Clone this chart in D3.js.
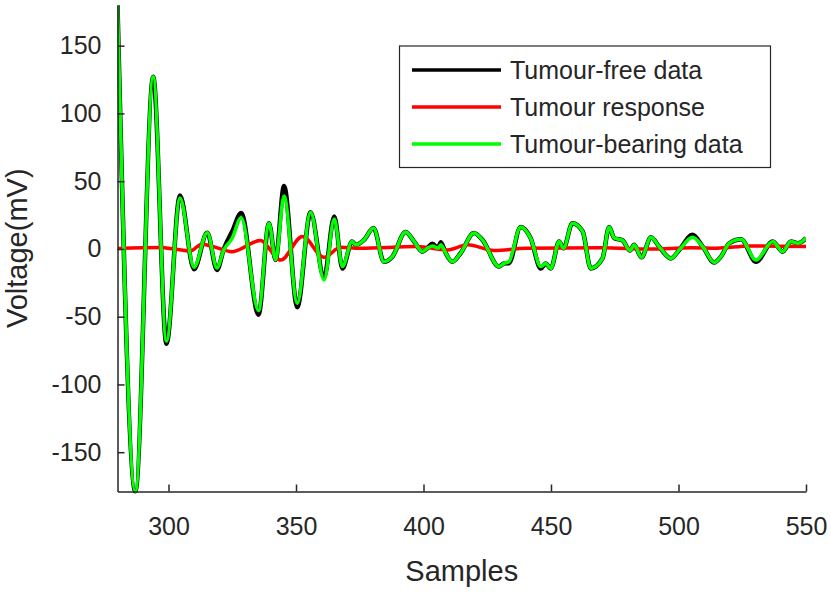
<!DOCTYPE html>
<html>
<head>
<meta charset="utf-8">
<script src="https://cdn.jsdelivr.net/npm/d3@7"></script>
<style>
  body { margin: 0; background: #fff; }
  text { font-family: "Liberation Sans", Arial, Helvetica, sans-serif; fill: #262626; }
</style>
</head>
<body>
<svg width="831" height="596"></svg>
<script>
const freeSamples = [280, 287, 294, 299.2, 304.5, 310, 315.2, 319, 321.7, 325, 328.5, 335.3, 339.4, 342, 345.3, 350.5, 355.7, 361, 365, 368.2, 372, 373.4, 376.7, 380.4, 384.5, 387.8, 393, 396.3, 399.6, 401.5, 403.5, 405.7, 406.8, 408.7, 411.3, 414.6, 419.8, 423.1, 429.6, 431.6, 433.5, 438.1, 442, 446, 447.9, 449.9, 453.2, 454.9, 458.4, 462.4, 465.6, 470.2, 472.8, 474.8, 478.1, 481, 482.6, 485.5, 489.2, 492.4, 497, 500.3, 505.5, 509.5, 514, 516.6, 519.9, 524.5, 530.4, 537, 540.8, 544.1, 546.8, 550];

// tumour-free data (black)
const freeValues = [180, -179, 127, -70, 39.5, -15, 12, -15.5, 0, 13, 26.5, -48.5, 19, -8, 46.5, -43, 27, -21, 24, -14.5, 5.5, 3, 6.7, 15.5, -9.5, -5.7, 12.4, 5.5, -2, 0.5, 3.8, 0.5, 5, -3, -9.5, -3, 11.7, 6.7, -13, -10.7, -10.5, 16.2, 8, -14.5, -10.7, -14.4, 5.5, 0.5, 19, 13, -14.4, -7, 16.2, 8, 6.2, -1.2, 3, -6.2, 8.7, 1.7, -7, -0.7, 10.4, 1.7, -10, -5.7, 4.2, 7.2, -9.5, 5.5, -2, 5.5, 4.2, 8];

// tumour-bearing data (green)
const bearingValues = [180, -179, 127, -68, 37.5, -13.5, 12, -14, -0.7, 8, 23, -45.5, 19, -8, 39, -40, 27, -23, 22, -13, 5.5, 3, 6.7, 15.5, -9.5, -5.7, 12.4, 5.5, -2, 0.5, 2.2, 0.5, 3, -3, -9.5, -3, 11.7, 6.7, -13, -10.7, -9.5, 16.2, 8, -13, -10.7, -14.4, 5.5, 0.5, 19, 13, -14.4, -7, 16.2, 8, 6.2, -1.2, 3, -6.2, 8.7, 1.7, -7, -0.7, 8.7, 1.7, -10, -5.7, 4.2, 7.2, -8.2, 5.5, -2, 5.5, 4.2, 8];

// tumour response (red)
const respSamples = [280, 297, 302, 308.6, 313, 317, 325, 336, 344, 352.5, 361, 367.5, 375, 397.6, 409.4, 417.3, 427.7, 440, 470, 489, 505, 515, 528, 540, 550];
const respValues = [0.3, 1, 0, -1.5, 3.5, 2, -2, 6.2, -8.2, 9.2, -6.2, 1.3, 0.5, 1.7, -0.7, 3, -1.2, 0.5, 0.8, 0, 0.8, 0.5, 2.2, 2, 1.7];

const xTicks = [300, 350, 400, 450, 500, 550];
const yTicks = [-150, -100, -50, 0, 50, 100, 150];
const legendNames = ["Tumour-free data", "Tumour response", "Tumour-bearing data"];
const legendColors = ["#000000", "#ff0000", "#00ff00"];

const svg = d3.select("svg");
const mLeft = 117.5, mRight = 806, mTop = 5, mBottom = 491.5;

const x = d3.scaleLinear().domain([280, 550]).range([mLeft, mRight]);
const y = d3.scaleLinear().domain([-179, 180]).range([mBottom, mTop]);

const line = d3.line()
  .x(d => x(d[0]))
  .y(d => y(d[1]))
  .curve(d3.curveMonotoneX);

const freeData = freeSamples.map((s, i) => [s, freeValues[i]]);
const bearingData = freeSamples.map((s, i) => [s, bearingValues[i]]);
const respData = respSamples.map((s, i) => [s, respValues[i]]);

const plot = svg.append("g");
plot.append("clipPath").attr("id", "clip")
  .append("rect").attr("x", mLeft).attr("y", mTop - 2).attr("width", mRight - mLeft).attr("height", mBottom - mTop + 4);

const lines = plot.append("g").attr("clip-path", "url(#clip)");
lines.append("path").datum(freeData).attr("d", line)
  .attr("fill", "none").attr("stroke", "#000").attr("stroke-width", 4.5).attr("stroke-linejoin", "round");
lines.append("path").datum(respData).attr("d", line)
  .attr("fill", "none").attr("stroke", "#ff0000").attr("stroke-width", 3.5).attr("stroke-linejoin", "round");
lines.append("path").datum(bearingData).attr("d", line)
  .attr("fill", "none").attr("stroke", "#00ff00").attr("stroke-width", 3.5).attr("stroke-linejoin", "round");

// axes (plain hyphen for negatives, like the original)
const fmt = d => String(d);
const xAxis = svg.append("g").attr("transform", `translate(0,${mBottom})`)
  .call(d3.axisBottom(x).tickValues(xTicks).tickFormat(fmt).tickSizeInner(-7).tickSizeOuter(0).tickPadding(26));
const yAxis = svg.append("g").attr("transform", `translate(${mLeft},0)`)
  .call(d3.axisLeft(y).tickValues(yTicks).tickFormat(fmt).tickSizeInner(-7).tickSizeOuter(0).tickPadding(16));

[xAxis, yAxis].forEach(a => {
  a.select(".domain").attr("stroke", "#262626").attr("stroke-width", 1.5);
  a.selectAll(".tick line").attr("stroke", "#262626").attr("stroke-width", 1.5);
  a.selectAll(".tick text").attr("font-size", 25).attr("fill", "#262626")
    .attr("font-family", "Liberation Sans, Arial, sans-serif");
});

svg.append("text").attr("x", (mLeft + mRight) / 2).attr("y", 581)
  .attr("text-anchor", "middle").attr("font-size", 29).text("Samples");
svg.append("text").attr("transform", `translate(27,${(mTop + mBottom) / 2}) rotate(-90)`)
  .attr("text-anchor", "middle").attr("font-size", 29).text("Voltage(mV)");

// legend
const legend = svg.append("g");
legend.append("rect").attr("x", 399.5).attr("y", 46).attr("width", 371).attr("height", 121.5)
  .attr("fill", "#fff").attr("stroke", "#262626").attr("stroke-width", 1.2);
legendNames.forEach((name, i) => {
  const ly = 70 + i * 37;
  legend.append("line").attr("x1", 412).attr("x2", 501).attr("y1", ly).attr("y2", ly)
    .attr("stroke", legendColors[i]).attr("stroke-width", 3.5);
  legend.append("text").attr("x", 510).attr("y", ly + 9).attr("font-size", 25).text(name);
});
</script>
</body>
</html>
